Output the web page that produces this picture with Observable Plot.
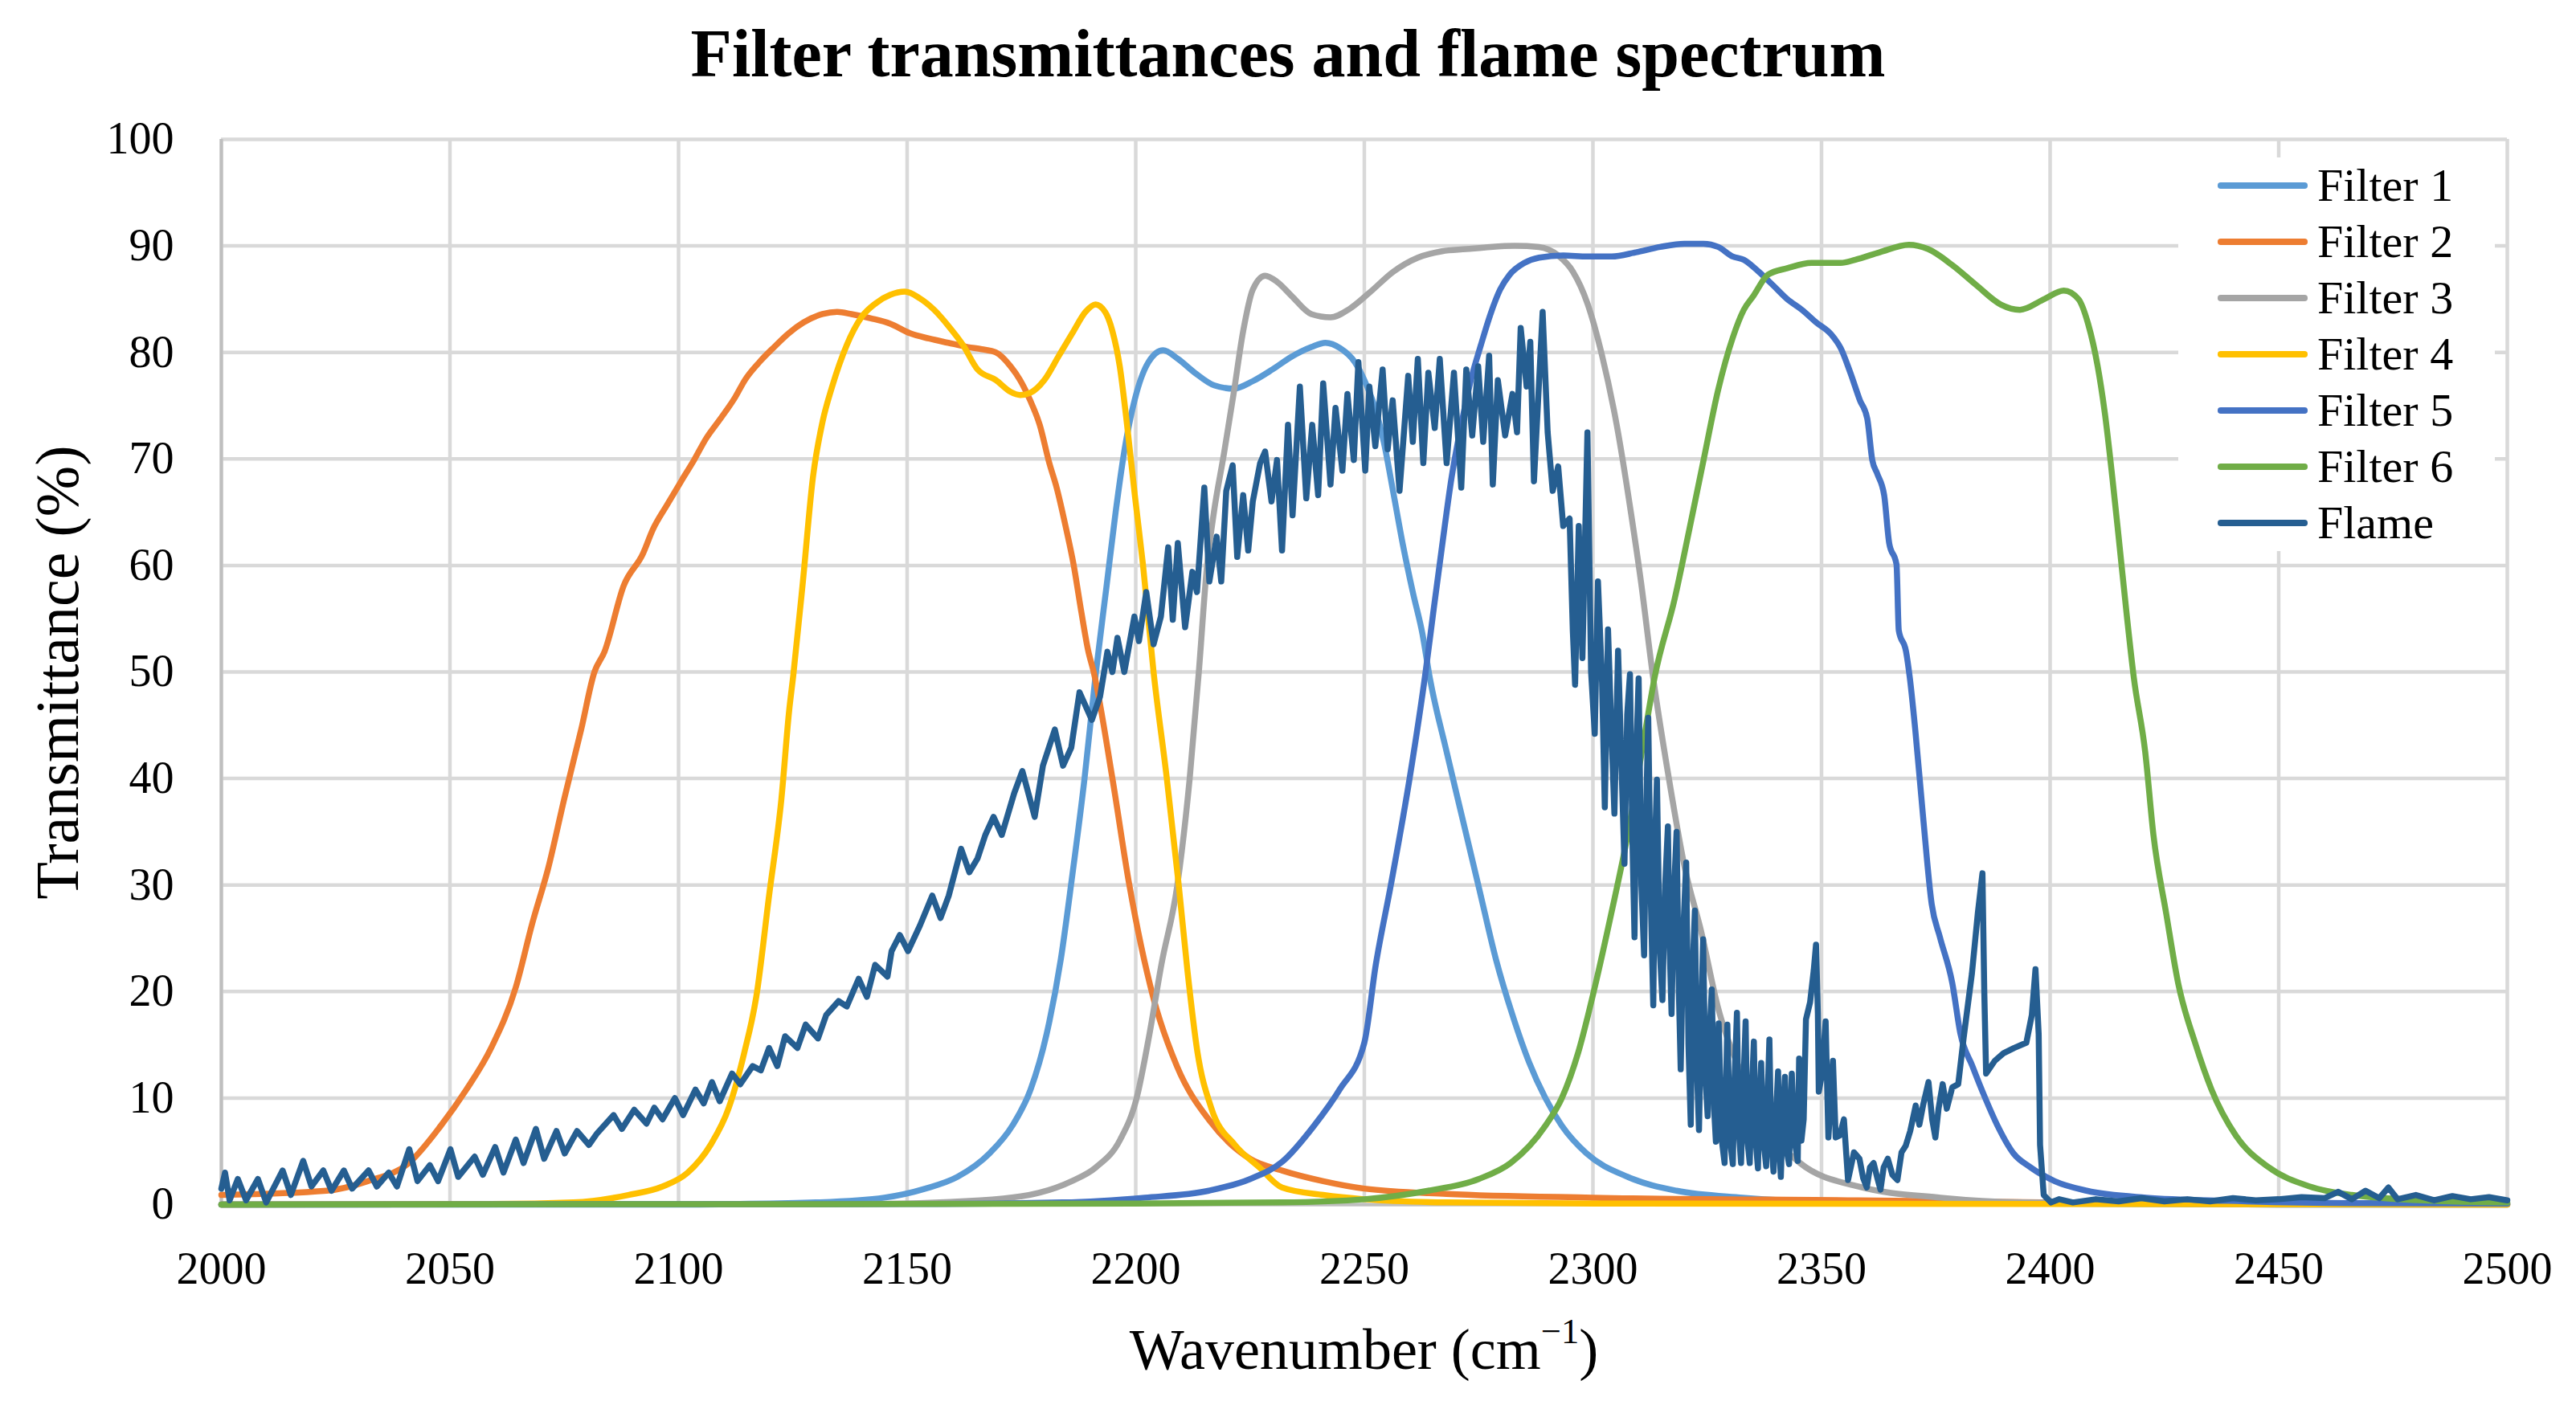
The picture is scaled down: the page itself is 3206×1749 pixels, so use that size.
<!DOCTYPE html>
<html><head><meta charset="utf-8">
<script src="https://cdn.jsdelivr.net/npm/d3@7"></script>
<script src="https://cdn.jsdelivr.net/npm/@observablehq/plot@0.6"></script>
<style>
body{margin:0;background:#fff;}
#wrap{position:relative;width:3206px;height:1749px;overflow:hidden;font-family:"Liberation Serif",serif;color:#000;background:#fff;}
#head{position:relative;height:150px;}
#title{position:absolute;top:25px;left:0;width:3206px;text-align:center;font-weight:bold;font-size:84px;line-height:84px;}
#xtitle{position:absolute;left:275px;width:2845px;top:1644px;text-align:center;font-size:72px;line-height:72px;}
#ytitle{position:absolute;left:-429px;top:792px;width:1000px;height:90px;line-height:90px;text-align:center;font-size:76px;transform:rotate(-90deg);}
#legend{position:absolute;left:2711px;top:196px;width:394px;height:490px;background:#fff;}
.row{display:flex;align-items:center;height:70px;}
.sw{margin-left:49px;width:112px;height:7.5px;border-radius:3.75px;}
.lt{margin-left:12px;font-size:58px;line-height:70px;white-space:nowrap;}
</style></head>
<body>
<div id="wrap">
  <div id="head"><div id="title">Filter transmittances and flame spectrum</div></div>
  <div id="chart"></div>
  <div id="xtitle">Wavenumber (cm<span style="font-size:0.62em;position:relative;top:-0.72em;">−1</span>)</div>
  <div id="ytitle">Transmittance (%)</div>
  <div id="legend"></div>
</div>
<script>
const seriesNames = ["Filter 1","Filter 2","Filter 3","Filter 4","Filter 5","Filter 6","Flame"];
const seriesColors = ["#5B9BD5","#ED7D31","#A5A5A5","#FFC000","#4472C4","#70AD47","#255E91"];
const xTicks = [2000,2050,2100,2150,2200,2250,2300,2350,2400,2450,2500];
const yTicks = [0,10,20,30,40,50,60,70,80,90,100];

const filter1 = [[2000,0],[2100,0],[2112,0.05],[2130,0.2],[2145,0.65],[2154,1.5],[2161,2.6],[2168,4.8],[2173,7.4],[2177,10.8],[2180.5,16],[2183.6,23],[2186,30.5],[2188.8,40],[2191.3,50],[2193.6,58],[2195.6,65],[2197.6,71],[2199.8,75.6],[2202.8,79.1],[2206,80.2],[2209.2,79.4],[2212.9,78.1],[2217.2,76.9],[2221.4,76.6],[2225.6,77.3],[2229.9,78.4],[2234.1,79.6],[2238.4,80.5],[2241.5,80.9],[2244.7,80.4],[2247.9,79.1],[2250,77.4],[2252.1,75.1],[2254.3,71.5],[2256.4,66.7],[2258.5,61.8],[2260.6,57.5],[2262.7,53.6],[2264.3,49.5],[2268,42.5],[2271.6,36],[2275.2,29.5],[2278.8,23],[2282.4,17.8],[2286,13.4],[2289.6,10],[2293.2,7.4],[2298.6,4.8],[2307.6,2.6],[2318.3,1.3],[2332.7,0.65],[2358,0.2],[2400,0.1],[2450,0],[2500,0]];

const filter2 = [[2000,0.9],[2023,1.3],[2032,2.2],[2041,3.9],[2048,7.4],[2053.6,10.8],[2059,14.7],[2064.4,20.4],[2068,26.4],[2071.5,31.6],[2075,38.1],[2078.7,44.6],[2081.6,50],[2083.8,51.9],[2088,58.1],[2092.2,61.1],[2094.4,63.4],[2097.5,65.7],[2100.7,68],[2103.4,69.9],[2106,71.9],[2109.2,73.8],[2112.4,75.8],[2114.5,77.4],[2117.7,79.1],[2120.9,80.5],[2124.1,81.8],[2127.3,82.8],[2131.5,83.6],[2134.7,83.8],[2137.8,83.6],[2142.1,83.2],[2146.3,82.7],[2150.6,81.8],[2154.8,81.3],[2159,80.9],[2163.3,80.5],[2166.3,80.3],[2169.4,80],[2172.6,78.7],[2174.7,77.4],[2176.9,75.5],[2179,73.2],[2181.1,69.6],[2182.7,67.3],[2184.8,63.4],[2186.4,60.1],[2188,55.9],[2189.6,52],[2190.8,50],[2194.9,40],[2198.6,30],[2203.8,19.5],[2209,13],[2216.3,7.8],[2225,4.3],[2232,3.2],[2241,2.2],[2250,1.5],[2268,1],[2300,0.65],[2358,0.4],[2400,0.2],[2450,0.1],[2500,0.05]];

const filter3 = [[2000,0],[2139,0.05],[2166,0.4],[2178.8,1.1],[2186,2.2],[2191.3,3.5],[2196.6,6.1],[2200.2,10],[2203,16],[2205.6,22.5],[2209.1,30],[2211.8,40],[2213.8,50],[2215.6,60],[2217.1,65],[2219.3,70.5],[2221.4,76.1],[2223.5,82],[2225.6,85.9],[2228.3,87.2],[2231,86.6],[2234.1,85.3],[2238.4,83.6],[2242.6,83.3],[2246.8,84.1],[2251.1,85.6],[2256.4,87.6],[2261.7,88.9],[2267,89.5],[2272.3,89.7],[2277.6,89.9],[2282.9,90],[2288.2,89.9],[2292.4,89.1],[2295.6,87.6],[2298.8,84.6],[2302,79.7],[2305.2,73.2],[2308.3,65],[2310.5,58.5],[2313.1,49.7],[2316.5,40.3],[2320.1,31.6],[2323.7,25.6],[2327.3,18.6],[2332.7,12.1],[2338,7.4],[2345.3,3.9],[2358,1.7],[2376,0.65],[2394,0.2],[2450,0],[2500,0]];

const filter4 = [[2000,0],[2059,0.05],[2077,0.2],[2089,0.9],[2096.5,1.7],[2102,3],[2107,5.6],[2111,9.1],[2114.4,14.3],[2117,19.5],[2119.8,29],[2122.5,38.1],[2124.2,46.4],[2125.1,49.7],[2127.2,58.5],[2129.4,68.3],[2131.5,73.5],[2133.6,76.8],[2136.8,80.7],[2140,83.3],[2143.1,84.6],[2146.3,85.4],[2149.5,85.7],[2152.7,85.1],[2155.9,84],[2159,82.5],[2162.2,80.7],[2165.4,78.4],[2169.4,77.4],[2172.6,76.3],[2174.7,76],[2176.9,76.2],[2180,77.4],[2183.2,79.7],[2186.4,82],[2189,83.8],[2191.2,84.5],[2193.3,83.8],[2194.9,82],[2196.5,78.7],[2198.1,73.2],[2199.8,66.6],[2201.6,60],[2203.9,50],[2206.8,40],[2209.4,30],[2211.3,22],[2213.5,14.3],[2216.5,9.1],[2221.7,5.6],[2227,3.5],[2232,1.6],[2241,0.9],[2250,0.5],[2268,0.2],[2300,0.1],[2500,0]];

const filter5 = [[2000,0],[2150,0.05],[2184,0.2],[2202,0.65],[2216,1.3],[2225,2.4],[2232,4],[2239,7.4],[2244.6,10.8],[2250,15.2],[2252.5,22.5],[2255.8,30],[2259.9,40],[2263.4,50],[2265.2,56],[2267,61.8],[2269.1,68.3],[2271.2,73.2],[2273.3,77.4],[2275.5,80.7],[2277.6,83.6],[2279.7,85.9],[2281.8,87.3],[2285,88.4],[2288.2,88.9],[2293.5,89.1],[2298.8,89],[2304.1,89],[2309.4,89.4],[2314.7,89.9],[2320,90.2],[2324.2,90.2],[2327.4,89.9],[2330.6,89],[2333,88.7],[2336.2,87.6],[2339.4,86.3],[2342.5,85],[2345.7,84],[2348.9,82.8],[2352.1,81.7],[2354.2,80.4],[2356.3,78.1],[2358.4,75.5],[2360,73.8],[2361.1,69.9],[2362.2,68.6],[2363.7,66.6],[2364.8,62.1],[2366.4,60.1],[2366.9,53.9],[2368.5,51.9],[2369.3,49.5],[2370.5,44.6],[2372.3,36],[2374.1,28.2],[2375.9,25.1],[2378.6,20.8],[2380.4,16],[2383,13],[2385.8,10],[2388.5,7.4],[2392,4.8],[2395.7,3.5],[2401,2.2],[2408,1.3],[2421,0.65],[2439,0.35],[2466,0.13],[2500,0.1]];

const filter6 = [[2000,0],[2150,0.05],[2200,0.1],[2232,0.2],[2250,0.5],[2264,1.3],[2275,2.4],[2282,3.9],[2289.6,7.4],[2293.2,10],[2296.8,14.3],[2300.4,20.4],[2304,27.3],[2307.6,34.7],[2311.2,43.8],[2313.5,49.5],[2317.9,56.9],[2321.1,63.4],[2324.2,69.9],[2327.4,76.5],[2330.6,81.4],[2333,84],[2335.1,85.3],[2338.3,87.3],[2342.5,87.9],[2347.8,88.4],[2354.2,88.4],[2357.4,88.7],[2362.7,89.4],[2369.1,90.1],[2373.3,89.7],[2378.6,88.2],[2383.9,86.3],[2389.2,84.5],[2393.4,84],[2398.7,85],[2403,85.8],[2406.2,85],[2408.3,82.7],[2410.4,78.7],[2412,74.2],[2413.6,68.3],[2415.2,61.8],[2416.8,55.2],[2418.3,49.5],[2420.8,42.5],[2422.6,34.7],[2425.4,27.3],[2428,20.8],[2431.7,15.2],[2435.3,10.8],[2440.6,6.5],[2447.8,3.5],[2456.8,1.7],[2466,0.9],[2484,0.35],[2500,0.2]];

const flame = [[2000,1.5],[2000.8,3],[2001.8,0.4],[2003.6,2.4],[2005.4,0.4],[2008,2.4],[2009.8,0.2],[2013.4,3.2],[2015.2,0.9],[2017.9,4.1],[2019.7,1.7],[2022.3,3.2],[2024.1,1.3],[2026.8,3.2],[2028.6,1.5],[2032.2,3.2],[2034,1.7],[2036.6,3],[2038.4,1.7],[2041.1,5.2],[2042.9,2.2],[2045.6,3.7],[2047.4,2.2],[2050.1,5.2],[2051.8,2.6],[2055.4,4.5],[2057.2,2.8],[2059.9,5.4],[2061.7,3],[2064.4,6.1],[2066.1,3.9],[2068.8,7.1],[2070.6,4.3],[2073.3,6.9],[2075.1,4.8],[2077.8,6.9],[2080.4,5.6],[2082.2,6.7],[2085.8,8.4],[2087.6,7.1],[2090.3,8.9],[2093,7.6],[2094.7,9.1],[2096.5,8],[2099.2,10],[2101,8.4],[2103.7,10.8],[2105.5,9.5],[2107.3,11.5],[2109,9.7],[2111.7,12.3],[2113.5,11.3],[2116.2,13],[2118,12.6],[2119.8,14.7],[2121.6,13],[2123.3,15.8],[2126,14.7],[2127.8,16.9],[2130.5,15.6],[2132.3,17.8],[2135,19.1],[2136.8,18.6],[2139.4,21.2],[2141.2,19.5],[2143,22.5],[2145.7,21.4],[2146.6,23.8],[2148.4,25.3],[2150.2,23.8],[2152.8,26.2],[2155.5,29],[2157.3,26.9],[2159.1,29],[2161.8,33.4],[2163.6,31.2],[2165.4,32.5],[2167.1,34.7],[2168.9,36.4],[2170.7,34.7],[2173.4,38.6],[2175.2,40.7],[2177.9,36.4],[2179.7,41.2],[2182.3,44.6],[2184.1,41.2],[2185.9,42.9],[2187.7,48.1],[2190.4,45.5],[2192.2,47.7],
[2193.8,51.9],[2194.9,50],[2196,53.2],[2197.5,50],[2199.7,55.2],[2200.7,52.9],[2202.3,57.5],[2203.9,52.6],[2205.5,55.2],[2207.1,61.7],[2208.1,54.9],[2209.2,62.1],[2210.8,54.2],[2212.4,59.4],[2213.4,57.5],[2215,67.3],[2216.1,58.5],[2217.7,62.7],[2218.7,58.5],[2219.8,67],[2221.2,69.4],[2222.2,60.8],[2223.5,66.6],[2224.6,61.4],[2225.6,66],[2227.2,69.6],[2228.3,70.7],[2229.7,66],[2230.9,69.9],[2232,61.4],[2233.3,73.2],[2234.3,64.7],[2235.9,76.8],[2237.3,66.3],[2238.6,73.2],[2239.9,66.6],[2241,77.1],[2242.6,67.6],[2243.7,74.8],[2245.2,68.9],[2246.3,76.1],[2247.7,69.9],[2248.7,79.1],[2250.2,68.9],[2251.1,76.8],[2252.4,71.2],[2254,78.4],[2255.1,70.9],[2256.2,75.5],[2257.7,67],[2259.6,77.8],[2260.6,71.6],[2261.7,79.4],[2262.9,69.6],[2264,78.1],[2265.4,72.9],[2266.5,79.4],[2268,69.6],[2269.6,78.1],[2271.2,67.3],[2272.3,78.4],[2273.6,72.2],[2274.9,78.7],[2276,71.6],[2277.3,79.7],[2278.1,67.6],[2279.2,77.4],[2280.8,72.2],[2282.4,76.1],[2283.4,72.5],[2284.2,82.3],[2285.5,76.8],[2286.3,81],[2287.1,67.9],[2289,83.8],[2290.1,72.5],[2291.2,67],[2292.4,69.3],[2293.5,63.7],[2294.9,64.4],[2295.6,53.9],[2296.1,48.8],[2296.9,63.7],[2297.7,51.3],[2298.8,72.5],[2299.6,50],[2300.4,44.2],[2301.1,58.5],[2302,49],[2302.6,37.3],[2303.3,54],[2304,45],[2304.7,36.7],[2305.5,52],[2306.2,42],[2306.9,32],[2307.5,46],[2308.1,49.8],[2308.6,35],[2309.1,25.1],[2309.6,44],[2310,49.4],[2310.6,30],[2311.2,23.4],[2311.7,38],[2312.1,45.7],[2312.7,28],[2313.2,18.7],[2313.6,34],[2314,39.9],[2314.6,24],[2315.2,19.2],[2315.8,30],[2316.4,35.5],[2316.8,24],[2317.2,17.9],[2317.8,30],[2318.3,35],[2318.8,20],[2319.2,12.7],[2319.8,26],[2320.4,32.1],[2320.9,15],[2321.4,7.5],[2321.8,22],[2322.3,27.6],[2322.8,12],[2323.2,7],[2323.7,18],[2324.1,24.9],[2324.6,12],[2325.1,8.3],[2325.5,16],[2326,20.2],[2326.5,9],[2326.9,5.9],[2327.2,12],[2327.5,17],[2328.2,6],[2328.8,3.9],[2329.1,11],[2329.4,16.9],[2330,6],[2330.6,3.8],[2331,12],[2331.5,18],[2331.9,7],[2332.4,3.9],[2332.9,11],[2333.4,17.2],[2333.8,6],[2334.3,3.9],[2334.7,10],[2335.2,15.3],[2335.6,6],[2336.1,3.4],[2336.4,9],[2336.8,13.3],[2337.3,6],[2337.9,3.6],[2338.2,10],[2338.6,15.5],[2339,6],[2339.5,3.1],[2340,8],[2340.5,12.5],[2340.8,5],[2341.1,2.6],[2341.5,8],[2342,12],[2342.4,5],[2342.9,3.8],[2343.2,8],[2343.5,12.3],[2344.1,6],[2344.8,4.1],[2345.1,13.7],[2345.6,6],[2346.1,8],[2346.6,17.4],[2347.5,19],[2348.3,22],[2348.8,24.4],[2349.2,18],[2349.4,10.6],[2350,12],[2350.9,17.2],[2351.5,6.3],[2352.5,13.5],[2353.1,6.3],[2354,6.5],[2354.9,8],[2355.8,2.3],[2357.1,4.9],[2358.3,4.3],[2359.1,2.5],[2359.9,1.6],[2360.6,3.5],[2361.4,3.9],[2362.2,2.5],[2362.9,1.4],[2363.6,3.5],[2364.5,4.3],[2365.5,2.8],[2366.6,2.3],[2367.5,4.9],[2368.4,5.5],[2369.4,6.9],[2370.6,9.3],[2371.4,7.5],[2372.2,9.3],[2373.4,11.5],[2374.2,8],[2374.9,6.3],[2375.6,9],[2376.5,11.3],[2377.4,9],[2378.6,11],[2379.9,11.3],[2381.1,15.7],[2382.9,21.7],[2384.2,27.4],[2385.2,31.1],[2385.6,20],[2386,12.3],[2387.9,13.5],[2389.8,14.2],[2392.1,14.7],[2394.8,15.2],[2396,17.8],[2396.8,22.1],[2397.5,16],[2397.8,5.6],[2398.6,0.9],[2400.2,0.2],
[2402,0.5],[2405,0.2],[2410,0.5],[2415,0.3],[2420,0.6],[2425,0.3],[2430,0.5],[2435,0.3],[2440,0.6],[2445,0.4],[2450,0.5],[2455,0.7],[2460,0.6],[2463,1.2],[2466,0.5],[2469,1.3],[2472,0.6],[2474,1.6],[2476,0.5],[2480,0.9],[2484,0.4],[2488,0.8],[2492,0.5],[2496,0.7],[2500,0.4]];

const seriesData = [filter1, filter2, filter3, filter4, filter5, filter6, flame];
const filterRows = [];
seriesData.slice(0, 6).forEach((arr, i) => arr.forEach(([x, y]) => filterRows.push({series: seriesNames[i], x, y})));
const flameRows = flame.map(([x, y]) => ({series: "Flame", x, y}));

const chart = Plot.plot({
  width: 3206,
  height: 1599,
  marginTop: 23,
  marginBottom: 250,
  marginLeft: 275,
  marginRight: 86,
  style: {fontFamily: "'Liberation Serif', serif", fontSize: "56px", color: "#000", background: "transparent", overflow: "visible"},
  x: {domain: [2000, 2500], label: null},
  y: {domain: [0, 100], label: null},
  color: {domain: seriesNames, range: seriesColors},
  marks: [
    Plot.gridX(xTicks, {stroke: "#D9D9D9", strokeOpacity: 1, strokeWidth: 4.5}),
    Plot.gridY(yTicks, {stroke: "#D9D9D9", strokeOpacity: 1, strokeWidth: 4.5}),
    Plot.ruleX([2000], {stroke: "#BFBFBF", strokeWidth: 4}),
    Plot.ruleY([0], {stroke: "#BFBFBF", strokeWidth: 4}),
    Plot.line(filterRows, {x: "x", y: "y", z: "series", stroke: "series", strokeWidth: 7.5, curve: "monotone-x", strokeLinejoin: "round", strokeLinecap: "round"}),
    Plot.line(flameRows, {x: "x", y: "y", stroke: "series", strokeWidth: 7.5, curve: "linear", strokeLinejoin: "round", strokeLinecap: "round"}),
    Plot.axisX(xTicks, {tickSize: 0, tickPadding: 59, tickFormat: d => String(d), label: null}),
    Plot.axisY(yTicks, {tickSize: 0, tickPadding: 59, tickFormat: d => String(d), label: null})
  ]
});
document.getElementById("chart").appendChild(chart);

const legend = document.getElementById("legend");
seriesNames.forEach((name, i) => {
  const row = document.createElement("div");
  row.className = "row";
  const sw = document.createElement("span");
  sw.className = "sw";
  sw.style.background = seriesColors[i];
  const t = document.createElement("span");
  t.className = "lt";
  t.textContent = name;
  row.appendChild(sw);
  row.appendChild(t);
  legend.appendChild(row);
});
</script>
</body></html>
